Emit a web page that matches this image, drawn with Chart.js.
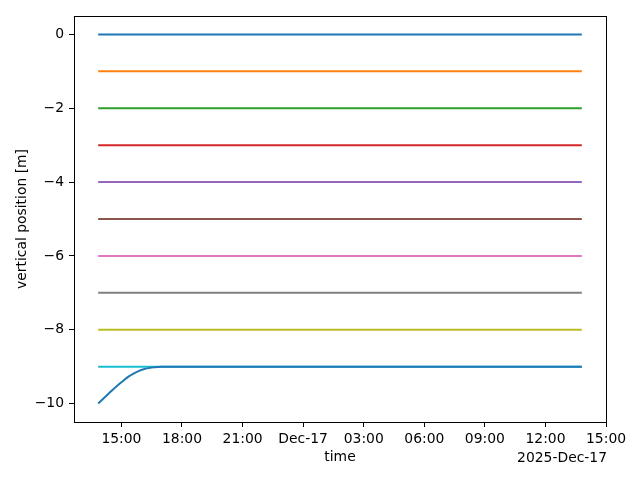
<!DOCTYPE html>
<html>
<head>
<meta charset="utf-8">
<script src="https://cdn.jsdelivr.net/npm/chart.js@4/dist/chart.umd.min.js"></script>
<style>
  html, body { margin: 0; padding: 0; background: #fff; }
  #wrap { width: 640px; height: 480px; }
</style>
</head>
<body>
<div id="wrap"><canvas id="depthChart"></canvas></div>
<script>
// time axis in hours since 2025-Dec-16 00:00
const startHour = 13.85;
const endHour = 37.8;
const levels = [0, -1, -2, -3, -4, -5, -6, -7, -8, -9];
const colors = ['#1f77b4', '#ff7f0e', '#2ca02c', '#d62728', '#9467bd',
                '#8c564b', '#e377c2', '#7f7f7f', '#bcbd22', '#17becf'];

// the one sensor that starts at -10 and settles at -9
const curveHours = [13.85, 14.1, 14.35, 14.6, 14.85, 15.1, 15.35, 15.6,
                    15.85, 16.1, 16.35, 16.6, 16.85, 17.1, 37.8];
const curveDepth = [-10.0, -9.87, -9.74, -9.61, -9.49, -9.38, -9.27, -9.19,
                    -9.12, -9.07, -9.04, -9.02, -9.01, -9.0, -9.0];

const tickHours = [15, 18, 21, 24, 27, 30, 33, 36, 39];
const tickLabels = ['15:00', '18:00', '21:00', 'Dec-17', '03:00', '06:00', '09:00', '12:00', '15:00'];
const yTicks = [0, -2, -4, -6, -8, -10];
const offsetLabel = '2025-Dec-17';

const fontFamily = '"DejaVu Sans", sans-serif';
const fontSize = 13.9;

// chart.js paints lower "order" on top, so later series get lower order
const datasets = levels.map((lv, i) => ({
    data: [{x: startHour, y: lv}, {x: endHour, y: lv}],
    borderColor: colors[i],
    borderWidth: 2,
    pointRadius: 0,
    fill: false,
    order: 20 - i
}));
datasets.push({
    data: curveHours.map((h, i) => ({x: h, y: curveDepth[i]})),
    borderColor: colors[0],
    borderWidth: 2,
    pointRadius: 0,
    fill: false,
    cubicInterpolationMode: 'monotone',
    order: 0
});

// frame + offset text like matplotlib
const framePlugin = {
    id: 'frame',
    afterDraw(chart) {
        const {ctx, chartArea: a} = chart;
        ctx.save();
        ctx.strokeStyle = '#000';
        ctx.lineWidth = 1;
        ctx.strokeRect(Math.round(a.left) + 0.5, Math.round(a.top) + 0.5,
                       Math.round(a.right - a.left), Math.round(a.bottom - a.top));
        ctx.fillStyle = '#000';
        ctx.font = fontSize + 'px ' + fontFamily;
        ctx.textAlign = 'right';
        ctx.textBaseline = 'middle';
        ctx.fillText(offsetLabel, a.right + 1, 458);
        ctx.restore();
    }
};

const xMin = startHour - 0.05 * (endHour - startHour);
const xMax = endHour + 0.05 * (endHour - startHour);

new Chart(document.getElementById('depthChart').getContext('2d'), {
    type: 'line',
    data: { datasets: datasets },
    plugins: [framePlugin],
    options: {
        responsive: true,
        maintainAspectRatio: false,
        animation: false,
        layout: { padding: { top: 16, right: 34, left: 0, bottom: 0 } },
        plugins: { legend: { display: false }, tooltip: { enabled: false } },
        scales: {
            x: {
                type: 'linear',
                min: xMin,
                max: xMax,
                afterBuildTicks: (s) => { s.ticks = tickHours.map(v => ({value: v})); },
                afterFit: (s) => { s.height = 58; },
                grid: { drawOnChartArea: false, drawTicks: true, tickLength: 5, tickColor: '#000' },
                border: { display: true, color: '#000', width: 1 },
                ticks: {
                    color: '#000',
                    padding: 4,
                    maxRotation: 0,
                    autoSkip: false,
                    font: { family: fontFamily, size: fontSize },
                    callback: (v) => {
                        const i = tickHours.indexOf(v);
                        return i >= 0 ? tickLabels[i] : '';
                    }
                },
                title: {
                    display: true,
                    text: 'time',
                    color: '#000',
                    font: { family: fontFamily, size: fontSize },
                    padding: { top: 0, bottom: 14 }
                }
            },
            y: {
                min: -10.5,
                max: 0.5,
                afterBuildTicks: (s) => { s.ticks = yTicks.map(v => ({value: v})); },
                afterFit: (s) => { s.width = 74; },
                grid: { drawOnChartArea: false, drawTicks: true, tickLength: 5, tickColor: '#000' },
                border: { display: true, color: '#000', width: 1 },
                ticks: {
                    color: '#000',
                    padding: 5,
                    font: { family: fontFamily, size: fontSize },
                    callback: (v) => String(v).replace('-', '\u2212')
                },
                title: {
                    display: true,
                    text: 'vertical position [m]',
                    color: '#000',
                    font: { family: fontFamily, size: fontSize },
                    padding: { top: 14, bottom: 0 }
                }
            }
        }
    }
});
</script>
</body>
</html>
